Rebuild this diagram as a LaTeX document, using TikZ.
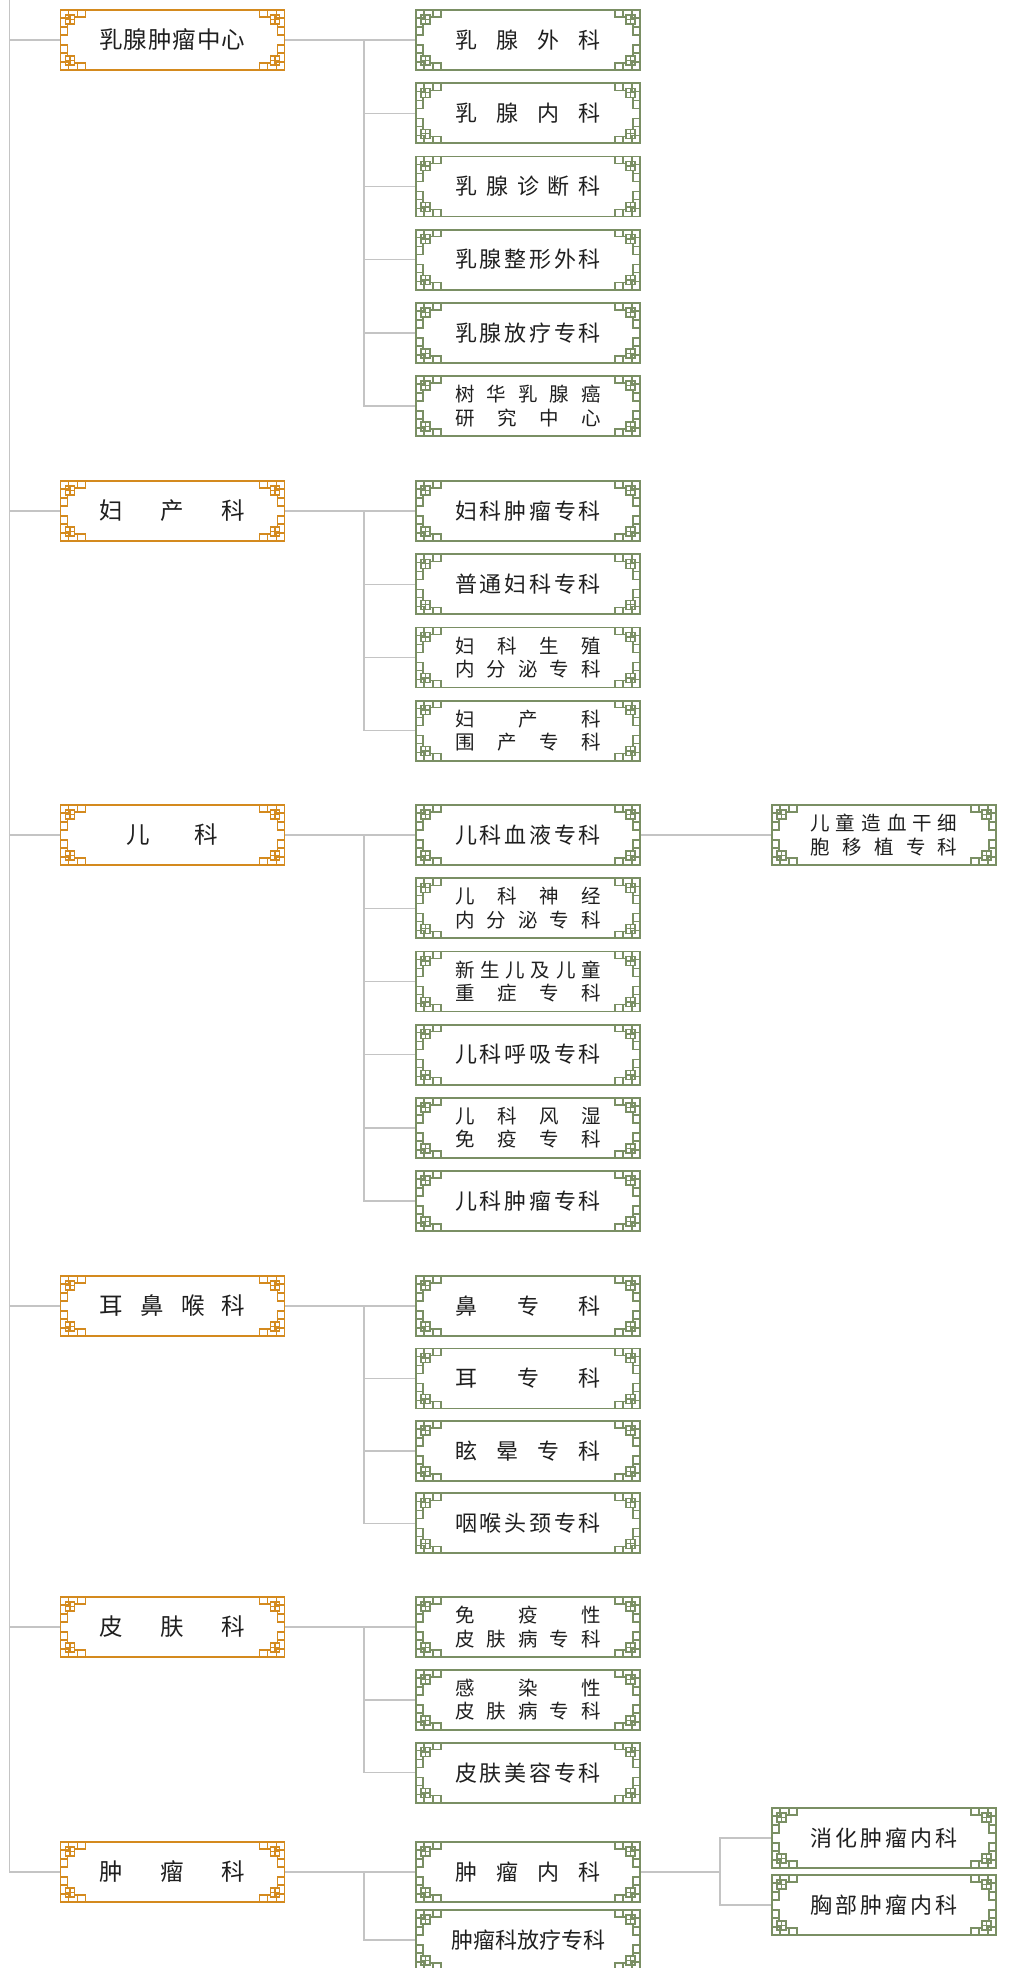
\documentclass[tikz,border=0pt]{standalone}
\usepackage{fontspec}
\setmainfont{Noto Sans CJK SC}
\usetikzlibrary{positioning,backgrounds}

\definecolor{mainframe}{HTML}{D48A1E}
\definecolor{subframe}{HTML}{7A8F64}
\definecolor{linkgray}{HTML}{C4C4C4}

% spread the characters of one line over a fixed width
\makeatletter
\newcommand\dt[2][146pt]{\makebox[#1][s]{\let\dt@sep\relax\@tfor\dt@c:=#2\do{\dt@sep\dt@c\let\dt@sep\hfill}}}
\makeatother

% lattice ornaments in the four corners of a box
\newcommand\ornaments[2]{%
  \foreach \a/\sx/\sy in {north west/1/1, north east/-1/1, south west/1/-1, south east/-1/-1}
    \draw[#2, line width=1.4pt, shift={(#1.\a)}, xscale=\sx, yscale=\sy]
      (0,0) rectangle (8,8) (5,5) rectangle (14,14) (9.5,5) -- (9.5,14) (5,9.5) -- (14,9.5)
      (14,7) -- (25,7) -- (25,0) (17,0) -- (17,7)
      (7,14) -- (7,25) -- (0,25) (0,17) -- (7,17);
}

\tikzset{
  dept/.style={draw=#1, line width=1.8pt, minimum width=224pt, minimum height=60pt,
    inner sep=0pt, outer sep=0pt, align=center, text=black!88},
  main/.style={dept=mainframe, font=\fontsize{23.5}{27}\selectfont},
  sub/.style={dept=subframe, font=\fontsize{22}{26}\selectfont},
  twoline/.style={font=\fontsize{19.5}{23.5}\selectfont},
  link/.style={draw=linkgray, line width=1.4pt},
}

\begin{document}
\begin{tikzpicture}[x=1pt, y=-1pt, node distance=13.2pt]
  \useasboundingbox (0,0) rectangle (1012,1968);
  % first column
  \node[main] (A) at (172.5,40)   {\dt{乳腺肿瘤中心}};
  \node[main] (B) at (172.5,511)  {\dt{妇产科}};
  \node[main] (C) at (172.5,835)  {\dt[92pt]{儿科}};
  \node[main] (D) at (172.5,1306) {\dt{耳鼻喉科}};
  \node[main] (E) at (172.5,1627) {\dt{皮肤科}};
  \node[main] (F) at (172.5,1872) {\dt{肿瘤科}};
  % second column
  \node[sub] (A1) [right=131.5pt of A] {\dt{乳腺外科}};
  \node[sub] (A2) [below=of A1] {\dt{乳腺内科}};
  \node[sub] (A3) [below=of A2] {\dt{乳腺诊断科}};
  \node[sub] (A4) [below=of A3] {\dt{乳腺整形外科}};
  \node[sub] (A5) [below=of A4] {\dt{乳腺放疗专科}};
  \node[sub,twoline] (A6) [below=of A5] {\dt{树华乳腺癌}\\\dt{研究中心}};

  \node[sub] (B1) [right=131.5pt of B] {\dt{妇科肿瘤专科}};
  \node[sub] (B2) [below=of B1] {\dt{普通妇科专科}};
  \node[sub,twoline] (B3) [below=of B2] {\dt{妇科生殖}\\\dt{内分泌专科}};
  \node[sub,twoline] (B4) [below=of B3] {\dt{妇产科}\\\dt{围产专科}};

  \node[sub] (C1) [right=131.5pt of C] {\dt{儿科血液专科}};
  \node[sub,twoline] (C2) [below=of C1] {\dt{儿科神经}\\\dt{内分泌专科}};
  \node[sub,twoline] (C3) [below=of C2] {\dt{新生儿及儿童}\\\dt{重症专科}};
  \node[sub] (C4) [below=of C3] {\dt{儿科呼吸专科}};
  \node[sub,twoline] (C5) [below=of C4] {\dt{儿科风湿}\\\dt{免疫专科}};
  \node[sub] (C6) [below=of C5] {\dt{儿科肿瘤专科}};

  \node[sub] (D1) [right=131.5pt of D] {\dt{鼻专科}};
  \node[sub] (D2) [below=12.4pt of D1] {\dt{耳专科}};
  \node[sub] (D3) [below=12.4pt of D2] {\dt{眩晕专科}};
  \node[sub] (D4) [below=12.4pt of D3] {\dt{咽喉头颈专科}};

  \node[sub,twoline] (E1) [right=131.5pt of E] {\dt{免疫性}\\\dt{皮肤病专科}};
  \node[sub,twoline] (E2) [below=12.8pt of E1] {\dt{感染性}\\\dt{皮肤病专科}};
  \node[sub] (E3) [below=12.8pt of E2] {\dt{皮肤美容专科}};

  \node[sub] (F1) [right=131.5pt of F] {\dt{肿瘤内科}};
  \node[sub] (F2) [below=8pt of F1] {肿瘤科放疗专科};
  % third column
  \node[sub,twoline] (C1a) [right=132pt of C1] {\dt[147pt]{儿童造血干细}\\\dt[147pt]{胞移植专科}};
  \node[sub] (F1a) [right=132pt of F1, yshift=34pt] {\dt[147pt]{消化肿瘤内科}};
  \node[sub] (F1b) [right=132pt of F1, yshift=-33pt] {\dt[147pt]{胸部肿瘤内科}};

  % corner ornaments
  \foreach \n in {A,B,C,D,E,F}
    {\ornaments{\n}{mainframe}}
  \foreach \n in {A1,A2,A3,A4,A5,A6,B1,B2,B3,B4,C1,C2,C3,C4,C5,C6,D1,D2,D3,D4,E1,E2,E3,F1,F2,C1a,F1a,F1b}
    {\ornaments{\n}{subframe}}

  % connectors
  \begin{scope}[on background layer]
    \coordinate (trunk) at (9.5,0);
    \draw[link] (trunk) |- (F);
    \foreach \n in {A,B,C,D,E}
      \draw[link] (trunk |- \n) -- (\n);
    \foreach \n/\k in {A/6,B/4,C/6,D/4,E/3,F/2} {
      \draw[link] (\n) -- (\n1);
      \coordinate[left=52pt of \n1] (bus\n);
      \foreach \i in {2,...,\k}
        \draw[link] (bus\n) |- (\n\i);
    }
    \draw[link] (C1) -- (C1a);
    \coordinate[right=80pt of F1] (busF1);
    \draw[link] (F1) -- (busF1) |- (F1a);
    \draw[link] (busF1) |- (F1b);
  \end{scope}
\end{tikzpicture}
\end{document}
